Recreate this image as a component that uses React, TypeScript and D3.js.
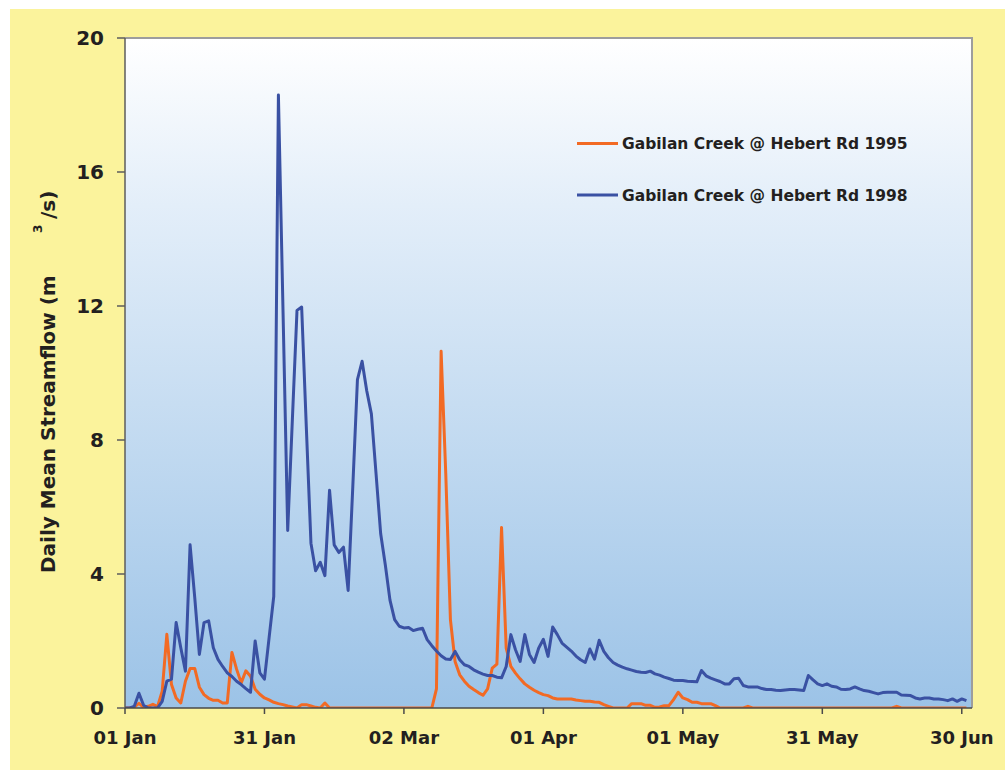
import * as d3 from "d3";

// Daily mean streamflow (m3/s), 01 Jan .. 01 Jul, one value per day
const FLOW_1995 = [
  0, 0, 0.03, 0.14, 0.02, 0.05, 0.11, 0.04, 0.5, 2.2,
  0.7, 0.3, 0.15, 0.8, 1.18, 1.18, 0.62, 0.4, 0.29, 0.23,
  0.23, 0.15, 0.15, 1.66, 1.16, 0.75, 1.11, 0.95, 0.56, 0.41,
  0.3, 0.24, 0.17, 0.13, 0.1, 0.06, 0.03, 0, 0.1, 0.1,
  0.06, 0.02, 0, 0.15, 0, 0, 0, 0, 0, 0,
  0, 0, 0, 0, 0, 0, 0, 0, 0, 0,
  0, 0, 0, 0, 0, 0, 0, 0.57, 10.65, 7.0,
  2.64, 1.39, 0.99, 0.8, 0.65, 0.55, 0.46, 0.38, 0.57, 1.19,
  1.31, 5.39, 1.79, 1.24, 1.04, 0.87, 0.72, 0.62, 0.53, 0.46,
  0.4, 0.37, 0.3, 0.27, 0.27, 0.27, 0.27, 0.24, 0.22, 0.2,
  0.2, 0.18, 0.17, 0.1, 0.05, 0, 0, 0, 0, 0.13,
  0.13, 0.13, 0.08, 0.08, 0.02, 0.03, 0.07, 0.07, 0.25, 0.47,
  0.3, 0.25, 0.17, 0.17, 0.13, 0.13, 0.13, 0.07, 0, 0,
  0, 0, 0, 0, 0.05, 0, 0, 0, 0, 0,
  0, 0, 0, 0, 0, 0, 0, 0, 0, 0,
  0, 0, 0, 0, 0, 0, 0, 0, 0, 0,
  0, 0, 0, 0, 0, 0, 0.05, 0, 0, 0,
  0, 0, 0, 0, 0, 0, 0, 0, 0, 0,
  0, 0,
];

const FLOW_1998 = [
  0, 0, 0.05, 0.44, 0.08, 0, 0, 0, 0.2, 0.8,
  0.86, 2.55, 1.8, 1.1, 4.87, 3.3, 1.6, 2.55, 2.6, 1.8,
  1.45, 1.24, 1.05, 0.94, 0.8, 0.7, 0.58, 0.47, 2.0, 1.05,
  0.86, 2.1, 3.33, 18.3, 11.8, 5.3, 8.6, 11.87, 11.97, 8.4,
  4.92, 4.1, 4.35, 3.95, 6.5, 4.87, 4.64, 4.8, 3.51, 6.6,
  9.8, 10.35, 9.47, 8.78, 7.0, 5.2, 4.27, 3.22, 2.64, 2.44,
  2.39, 2.4, 2.31, 2.35, 2.38, 2.04, 1.86, 1.7, 1.56, 1.46,
  1.45, 1.69, 1.44, 1.29, 1.24, 1.14, 1.07, 1.01, 0.97, 0.97,
  0.92, 0.9, 1.24, 2.19, 1.74, 1.39, 2.19, 1.6, 1.36, 1.79,
  2.05, 1.54, 2.42, 2.19, 1.94, 1.82, 1.7, 1.55, 1.44, 1.36,
  1.76, 1.46, 2.02, 1.69, 1.5, 1.36, 1.28, 1.22, 1.17, 1.13,
  1.09, 1.07, 1.06, 1.1, 1.02, 0.98, 0.92, 0.88, 0.83, 0.82,
  0.82, 0.8, 0.79, 0.78, 1.12, 0.96, 0.89, 0.84, 0.79, 0.72,
  0.72, 0.87, 0.89, 0.67, 0.63, 0.63, 0.63, 0.58, 0.55, 0.55,
  0.53, 0.52, 0.54, 0.55, 0.55, 0.54, 0.52, 0.97, 0.84, 0.72,
  0.67, 0.72, 0.65, 0.63, 0.56, 0.55, 0.57, 0.63, 0.57, 0.52,
  0.5, 0.46, 0.42, 0.46, 0.47, 0.47, 0.47, 0.39, 0.38, 0.37,
  0.3, 0.27, 0.3, 0.3, 0.27, 0.27, 0.25, 0.22, 0.27, 0.2,
  0.27, 0.22,
];

const SERIES = [
  { name: "Gabilan Creek @ Hebert Rd 1995", values: FLOW_1995, color: "#f26a24" },
  { name: "Gabilan Creek @ Hebert Rd 1998", values: FLOW_1998, color: "#3a51a3" },
];

const X_TICK_DAYS = [0, 30, 60, 90, 120, 150, 180];
const X_TICK_LABELS = ["01 Jan", "31 Jan", "02 Mar", "01 Apr", "01 May", "31 May", "30 Jun"];
const Y_TICKS = [0, 4, 8, 12, 16, 20];

const W = 1005;
const H = 770;
const FONT = "'DejaVu Sans', Verdana, sans-serif";
const INK = "#231f20";

export default function App() {
  const left = 125, right = 972, top = 38, bottom = 708;
  const x = d3.scaleLinear().domain([0, 182.2]).range([left, right]);
  const y = d3.scaleLinear().domain([0, 20]).range([bottom, top]);

  const line = d3
    .line<number>()
    .x((_, i) => x(i))
    .y((d) => y(d));

  return (
    <svg
      width={W}
      height={H}
      style={{ position: "fixed", left: 0, top: 0, display: "block" }}
      fontFamily={FONT}
    >
      <defs>
        <linearGradient id="plotbg" x1="0" y1="0" x2="0" y2="1">
          <stop offset="0" stopColor="#ffffff" />
          <stop offset="0.25" stopColor="#e3eef9" />
          <stop offset="1" stopColor="#9cc3e7" />
        </linearGradient>
        <clipPath id="plotclip">
          <rect x={left} y={top - 2} width={right - left} height={bottom - top + 2} />
        </clipPath>
      </defs>

      <rect x={0} y={0} width={W} height={H} fill="#ffffff" />
      <rect x={10} y={9} width={W - 10} height={H - 9} fill="#fbf39c" />

      {/* plot area */}
      <rect x={left} y={top} width={right - left} height={bottom - top} fill="url(#plotbg)" />
      <path
        d={`M${left},${top}H${right}V${bottom}`}
        fill="none"
        stroke="#9d9d9d"
        strokeWidth={2}
      />

      {/* series */}
      <g clipPath="url(#plotclip)">
        {SERIES.map((s) => (
          <path
            key={s.name}
            d={line(s.values) ?? ""}
            fill="none"
            stroke={s.color}
            strokeWidth={3}
            strokeLinejoin="round"
          />
        ))}
      </g>

      {/* axes */}
      <line x1={left} x2={left} y1={top} y2={bottom} stroke="#5c5c5c" strokeWidth={1.5} />
      <line x1={left} x2={right} y1={bottom} y2={bottom} stroke="#4a4a4a" strokeWidth={1.5} />

      {Y_TICKS.map((t) => (
        <g key={t}>
          <line x1={left - 8} x2={left} y1={y(t)} y2={y(t)} stroke="#5c5c5c" strokeWidth={1.5} />
          <text
            x={104}
            y={y(t)}
            dy="0.36em"
            textAnchor="end"
            fontSize={20}
            fontWeight="bold"
            fill={INK}
          >
            {t}
          </text>
        </g>
      ))}

      {X_TICK_DAYS.map((d, i) => (
        <g key={d}>
          <line x1={x(d)} x2={x(d)} y1={bottom} y2={bottom + 6} stroke="#4a4a4a" strokeWidth={1.5} />
          <text
            x={x(d)}
            y={744}
            textAnchor="middle"
            fontSize={18}
            fontWeight="bold"
            fill={INK}
          >
            {X_TICK_LABELS[i]}
          </text>
        </g>
      ))}

      {/* y axis title */}
      <text
        transform="translate(55,573) rotate(-90)"
        fontSize={20}
        fontWeight="bold"
        fill={INK}
      >
        Daily Mean Streamflow (m
      </text>
      <text transform="translate(42,233) rotate(-90)" fontSize={12} fontWeight="bold" fill={INK}>
        3
      </text>
      <text transform="translate(55,219) rotate(-90)" fontSize={20} fontWeight="bold" fill={INK}>
        /s)
      </text>

      {/* legend */}
      {SERIES.map((s, i) => {
        const ly = 143.5 + i * 51.5;
        return (
          <g key={s.name}>
            <line x1={577} x2={618} y1={ly} y2={ly} stroke={s.color} strokeWidth={3} />
            <text x={622} y={ly + 5.8} fontSize={15.5} fontWeight="bold" fill={INK}>
              {s.name}
            </text>
          </g>
        );
      })}
    </svg>
  );
}
